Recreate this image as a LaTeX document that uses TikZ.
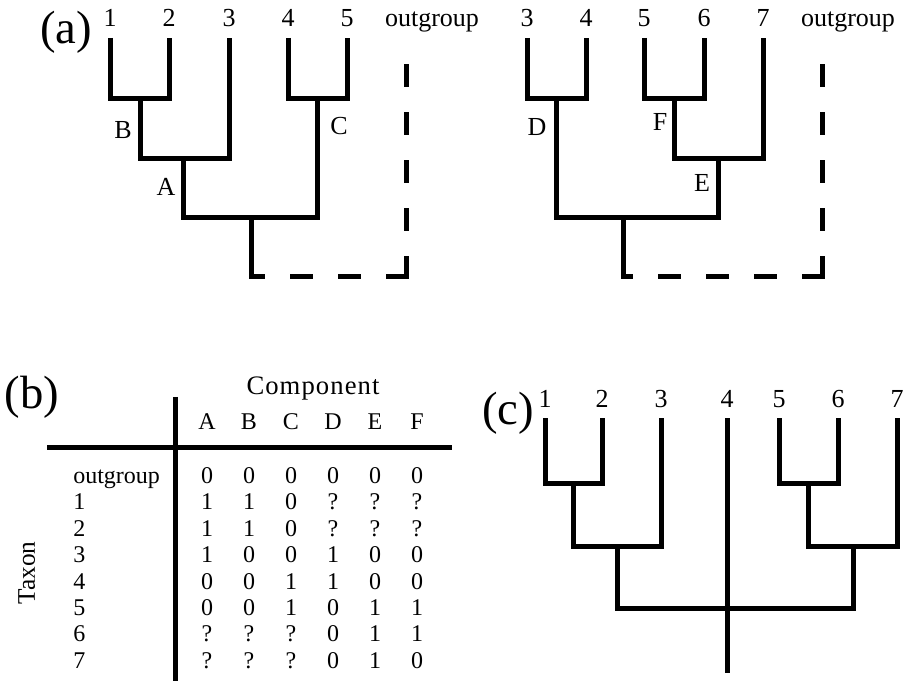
\documentclass[tikz,border=0pt]{standalone}
\usepackage{fontspec}
\setmainfont{Liberation Serif}
\begin{document}
\begin{tikzpicture}[x=0.75pt, y=-0.75pt,
  lab/.style={font=\fontsize{19.5}{22}\selectfont, inner sep=0pt},
  tab/.style={font=\fontsize{18}{21}\selectfont, inner sep=0pt},
  panel/.style={font=\fontsize{35}{40}\selectfont, inner sep=0pt, anchor=base},
  branch/.style={line width=3.75pt, line join=miter},
  outbranch/.style={line width=3.75pt, line cap=rect, dash pattern=on 13.5pt off 22.5pt}]
\useasboundingbox (0,0) rectangle (908,681);

% ---------- (a) left tree: ((1,2)B,3)A,(4,5)C ----------
\node[panel] (pa) at (66,44) {(a)};
\foreach \n/\x in {1/110,2/169,3/229,4/288,5/347} {
  \coordinate (a\n) at (\x,38);
  \node[lab, anchor=base] (la\n) at (\x,27) {\n};
}
\node[lab, anchor=base] (laout) at (432,27) {outgroup};
\coordinate (aB) at (140,99);
\coordinate (aA) at (183,159);
\coordinate (aC) at (317,99);
\coordinate (aR) at (251,218);
\coordinate (aRoot) at (251,277);
\coordinate (aCorner) at (406,277);
\coordinate (aOut) at (406,62);
\draw[branch] (a1) |- (aB) -| (a2);
\draw[branch] (aB) |- (aA) -| (a3);
\draw[branch] (a4) |- (aC) -| (a5);
\draw[branch] (aA) |- (aR) -| (aC);
\draw[branch] (aR) -- (aRoot);
\draw[outbranch] (aCorner) -- (aOut);
\draw[outbranch] (aCorner) -- (aRoot);
\node[lab] (lB) at (123,130) {B};
\node[lab] (lA) at (166,187) {A};
\node[lab] (lC) at (339,126) {C};

% ---------- (a) right tree: (3,4)D,((5,6)F,7)E ----------
\foreach \n/\x in {3/527,4/586,5/644,6/704,7/763} {
  \coordinate (b\n) at (\x,38);
  \node[lab, anchor=base] (lb\n) at (\x,27) {\n};
}
\node[lab, anchor=base] (lbout) at (848,27) {outgroup};
\coordinate (bD) at (556,99);
\coordinate (bF) at (674,99);
\coordinate (bE) at (718,159);
\coordinate (bR) at (623,218);
\coordinate (bRoot) at (623,277);
\coordinate (bCorner) at (822,277);
\coordinate (bOut) at (822,62);
\draw[branch] (b3) |- (bD) -| (b4);
\draw[branch] (b5) |- (bF) -| (b6);
\draw[branch] (bF) |- (bE) -| (b7);
\draw[branch] (bD) |- (bR) -| (bE);
\draw[branch] (bR) -- (bRoot);
\draw[outbranch] (bCorner) -- (bOut);
\draw[outbranch] (bCorner) -- (bRoot);
\node[lab] (lD) at (537,127) {D};
\node[lab] (lF) at (660,122) {F};
\node[lab] (lE) at (702,183) {E};

% ---------- (b) component table ----------
\node[panel] (pb) at (32,408) {(b)};
\coordinate (vTop) at (175,397);
\coordinate (vBot) at (175,681);
\coordinate (hL) at (47,447);
\coordinate (hR) at (452,447);
\draw[line width=3.75pt] (vTop) -- (vBot);
\draw[line width=3.75pt] (hL) -- (hR);
\node[tab, font=\fontsize{20}{24}\selectfont, anchor=base] (comp) at (313,394)
  {\addfontfeatures{LetterSpace=4}Component};
\foreach \h [count=\ci] in {A,B,C,D,E,F}
  \node[tab, anchor=base] (hd\h) at ({165+42*\ci},429) {\h};
\foreach \lab/\yy/\vals [count=\ri] in {
    outgroup/483/{0,0,0,0,0,0},
    1/509.5/{1,1,0,?,?,?},
    2/536/{1,1,0,?,?,?},
    3/562/{1,0,0,1,0,0},
    4/589/{0,0,1,1,0,0},
    5/615/{0,0,1,0,1,1},
    6/641/{?,?,?,0,1,1},
    7/668/{?,?,?,0,1,0}} {
  \node[tab, anchor=base west] (row\ri) at (73,\yy) {\lab};
  \foreach \v [count=\ci] in \vals
    \node[tab, anchor=base] (cell\ri-\ci) at ({165+42*\ci},\yy) {\v};
}
\node[tab, font=\fontsize{19}{22}\selectfont, rotate=90, anchor=base] (taxon) at (35,573) {Taxon};

% ---------- (c) consensus tree ----------
\node[panel] (pc) at (508,425) {(c)};
\foreach \n/\x in {1/545,2/602,3/661,4/727,5/779,6/838,7/897} {
  \coordinate (c\n) at (\x,418);
  \node[lab, anchor=base] (lc\n) at (\x,407) {\n};
}
\coordinate (cA) at (573,483);
\coordinate (cB) at (617,546);
\coordinate (cC) at (808,483);
\coordinate (cD) at (853,546);
\coordinate (cR) at (727,608);
\coordinate (cBottom) at (727,673);
\draw[branch] (c1) |- (cA) -| (c2);
\draw[branch] (cA) |- (cB) -| (c3);
\draw[branch] (c5) |- (cC) -| (c6);
\draw[branch] (cC) |- (cD) -| (c7);
\draw[branch] (cB) |- (cR) -| (cD);
\draw[branch] (c4) -- (cBottom);
\end{tikzpicture}
\end{document}
